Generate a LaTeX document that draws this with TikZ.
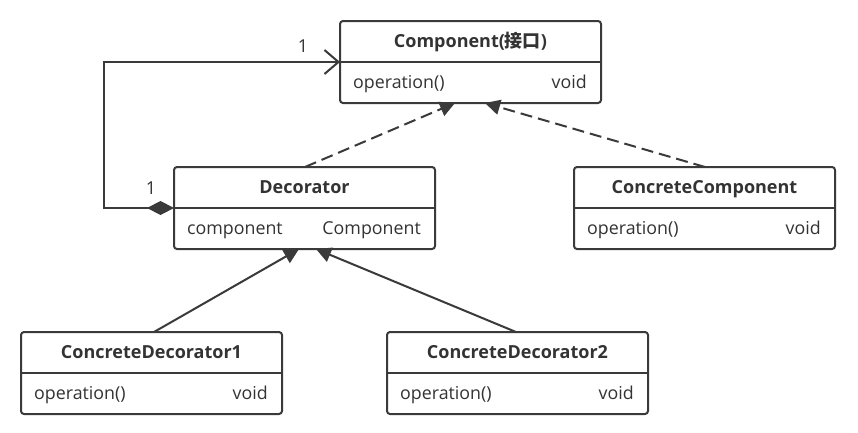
\documentclass[tikz,border=0pt]{standalone}
\usepackage{fontspec}
\setmainfont{Open Sans}
\newfontfamily\cjk{Noto Sans CJK SC}
\usetikzlibrary{arrows.meta}
\definecolor{linec}{HTML}{3A3A3A}
\definecolor{textc}{HTML}{333333}
\tikzset{
  classbox/.style={draw=linec, line width=2pt, rounded corners=3pt, fill=white,
    minimum height=82pt, inner sep=0pt, outer sep=0pt, anchor=north west},
  divline/.style={draw=linec, line width=2pt},
  titletext/.style={font=\fontsize{18}{20}\selectfont\bfseries, text=textc, inner sep=0pt,
    text height=12pt, text depth=4pt},
  attrtext/.style={font=\fontsize{17.8}{20}\selectfont, text=textc, inner sep=0pt,
    text height=12pt, text depth=4pt},
  realize/.style={draw=linec, line width=2pt, dash pattern=on 12pt off 6pt,
    -{Triangle[length=15pt,width=15pt]}},
  inherit/.style={draw=linec, line width=2pt,
    -{Triangle[length=15pt,width=15pt]}},
  assoc/.style={draw=linec, line width=2pt,
    {Diamond[length=27pt,width=14pt]}-{Straight Barb[length=14pt,width=24pt,line width=2pt]}},
  multlabel/.style={font=\fontsize{17.8}{20}\selectfont, text=textc, inner sep=0pt}
}
\newcommand\umlclass[6]{%
  \node[classbox, minimum width=#4] (#1) at (#2,#3) {};
  \draw[divline] ([yshift=-41pt]#1.north west) -- ([yshift=-41pt]#1.north east);
  \node[titletext] (#1-title) at ([yshift=-22pt]#1.north) {#5};
  \node[attrtext, anchor=west] (#1-left) at ([xshift=13pt,yshift=-63pt]#1.north west) {#6};
}
\newcommand\umlright[2]{%
  \node[attrtext, anchor=east] (#1-right) at ([xshift=-14pt,yshift=-63pt]#1.north east) {#2};
}
\begin{document}
\begin{tikzpicture}[x=1pt,y=-1pt]
  \useasboundingbox (0,0) rectangle (858,432);
  \fill[white] (0,0) rectangle (858,432);

  \umlclass{comp}{340}{21}{261pt}{Component({\cjk\bfseries 接口})}{operation()}
  \umlright{comp}{void}
  \umlclass{dec}{174}{167}{261pt}{Decorator}{component}
  \umlright{dec}{Component}
  \umlclass{cc}{574}{167}{261pt}{ConcreteComponent}{operation()}
  \umlright{cc}{void}
  \umlclass{cdone}{21}{332}{261pt}{ConcreteDecorator1}{operation()}
  \umlright{cdone}{void}
  \umlclass{cdtwo}{387}{332}{261pt}{ConcreteDecorator2}{operation()}
  \umlright{cdtwo}{void}

  \draw[realize] ([xshift=131pt]dec.north west) -- ([xshift=115pt]comp.south west);
  \draw[realize] ([xshift=131pt]cc.north west) -- ([xshift=145pt]comp.south west);
  \draw[inherit] ([xshift=133pt]cdone.north west) -- ([xshift=125pt]dec.south west);
  \draw[inherit] ([xshift=129pt]cdtwo.north west) -- ([xshift=142pt]dec.south west);

  \coordinate (bend) at (104,62);
  \draw[assoc] ([yshift=-41pt]dec.north west) -| (bend) -- ([yshift=-41pt]comp.north west);

  \node[multlabel] (m1) at (151,188) {1};
  \node[multlabel] (m2) at (303,46) {1};
\end{tikzpicture}
\end{document}
